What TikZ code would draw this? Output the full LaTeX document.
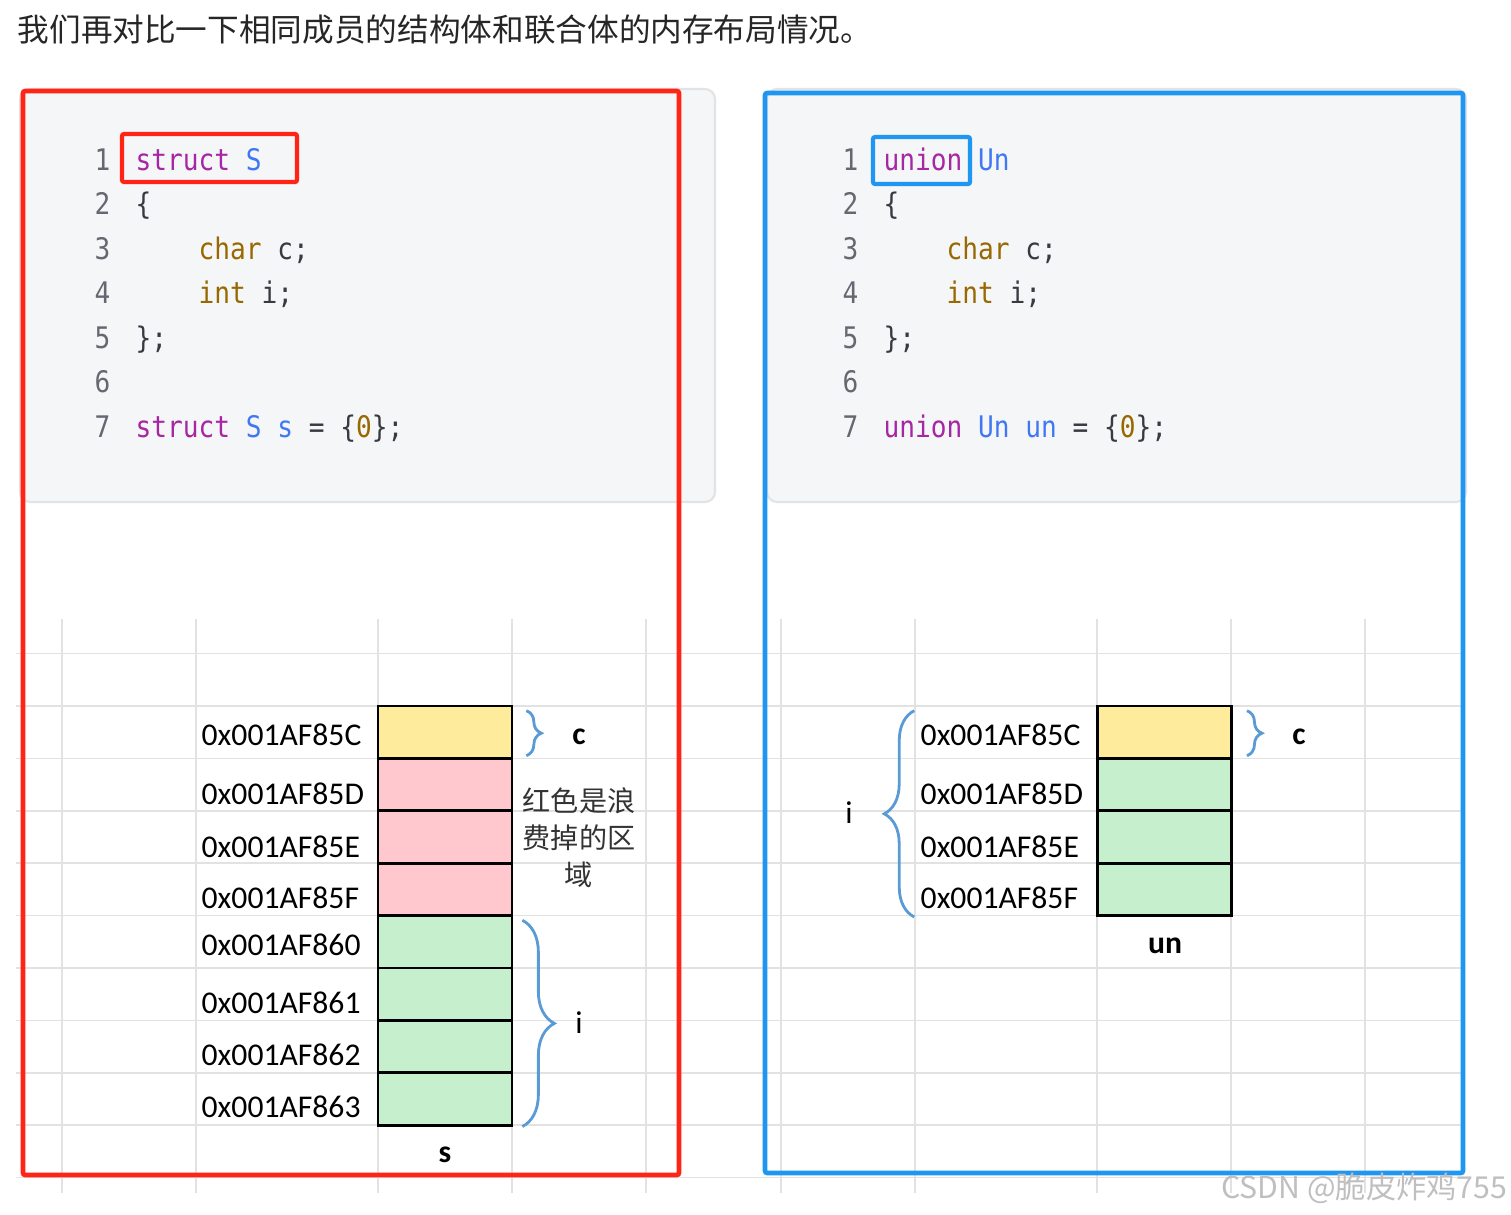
\documentclass[tikz,border=0pt]{standalone}
\usepackage{fontspec}
\setmainfont{Carlito}
\setmonofont[FakeStretch=0.88]{DejaVu Sans Mono}
\newfontfamily\cjk{Noto Sans CJK SC}
\usetikzlibrary{
    calc,
    decorations.pathreplacing
}
\definecolor{frameRed}{RGB}{255,36,22}
\definecolor{frameBlue}{RGB}{30,150,242}
\definecolor{panelBg}{RGB}{245,246,247}
\definecolor{panelLine}{RGB}{225,227,230}
\definecolor{gridLine}{RGB}{226,226,226}
\definecolor{kwPurple}{RGB}{166,38,164}
\definecolor{tyBlue}{RGB}{64,120,242}
\definecolor{numBrown}{RGB}{152,104,1}
\definecolor{codeInk}{RGB}{56,58,66}
\definecolor{lineGray}{RGB}{100,104,112}
\definecolor{cellYellow}{RGB}{255,235,156}
\definecolor{cellPink}{RGB}{255,199,206}
\definecolor{cellGreen}{RGB}{198,239,206}
\definecolor{braceBlue}{RGB}{91,155,213}
\newcommand\cdfont{\fontsize{8.45pt}{10pt}\selectfont\ttfamily}
\newcommand\addrfont{\fontsize{9pt}{11pt}\selectfont}
\tikzset{
  panel/.style   = {fill=panelBg, draw=panelLine, line width=0.6pt,
                    rounded corners=0.1cm},
  gridln/.style  = {draw=gridLine, line width=0.45pt},
  hlbox/.style   = {line width=1.2pt, rounded corners=0.6pt},
  lnum/.style    = {anchor=base east, inner sep=0, font=\cdfont, text=lineGray},
  code/.style    = {anchor=base west, inner sep=0, font=\cdfont, text=codeInk},
  cell/.style    = {draw=black, line width=0.75pt, minimum width=1.34cm,
                    minimum height=0.524cm, inner sep=0},
  addr/.style    = {anchor=west, inner sep=0, font=\addrfont},
  memname/.style = {inner sep=0, font=\addrfont\bfseries},
  brc/.style     = {draw=braceBlue, line width=0.8pt,
                    decorate, decoration={brace, amplitude=#1}}
}

\begin{document}
\begin{tikzpicture}[x=0.01cm, y=-0.01cm]
  \useasboundingbox (0,0) rectangle (1511,1214);

  % heading
  \node[anchor=west, inner sep=0, font=\cjk\fontsize{9pt}{11pt}\selectfont,
        text=black!85] (title) at (17,30)
        {我们再对比一下相同成员的结构体和联合体的内存布局情况。};

  % code panels
  \draw[panel] (20,89) rectangle (715,502);
  \draw[panel] (767,89) rectangle (1466,502);

  \foreach \k in {1,...,7} {
    \node[lnum] (lnS\k) at (111,{170+44.5*(\k-1)}) {\k};
    \node[lnum] (lnU\k) at (859,{170+44.5*(\k-1)}) {\k};
  }

  \node[code] (codeS1) at (135,170)   {\textcolor{kwPurple}{struct} \textcolor{tyBlue}{S}};
  \node[code] (codeS2) at (135,214.5) {\{};
  \node[code] (codeS3) at (198,259)   {\textcolor{numBrown}{char} c;};
  \node[code] (codeS4) at (198,303.5) {\textcolor{numBrown}{int} i;};
  \node[code] (codeS5) at (135,348)   {\};};
  \node[code] (codeS7) at (135,437)   {\textcolor{kwPurple}{struct} \textcolor{tyBlue}{S}
    \textcolor{tyBlue}{s} = \{\textcolor{numBrown}{0}\};};

  \node[code] (codeU1) at (883,170)   {\textcolor{kwPurple}{union} \textcolor{tyBlue}{Un}};
  \node[code] (codeU2) at (883,214.5) {\{};
  \node[code] (codeU3) at (946,259)   {\textcolor{numBrown}{char} c;};
  \node[code] (codeU4) at (946,303.5) {\textcolor{numBrown}{int} i;};
  \node[code] (codeU5) at (883,348)   {\};};
  \node[code] (codeU7) at (883,437)   {\textcolor{kwPurple}{union} \textcolor{tyBlue}{Un}
    \textcolor{tyBlue}{un} = \{\textcolor{numBrown}{0}\};};

  \draw[hlbox, frameRed]  (122,134) rectangle (297,182);
  \draw[hlbox, frameBlue] (873,137) rectangle (970,184);

  % spreadsheet grid
  \foreach \x in {62,196,378,512,646,781,915,1097,1231,1365}
    \draw[gridln] (\x,619) -- (\x,1193);
  \foreach \k in {0,...,10}
    \draw[gridln] (16,{653.6+52.4*\k}) -- (1463,{653.6+52.4*\k});

  % struct S s
  \foreach \k/\col in {0/cellYellow,1/cellPink,2/cellPink,3/cellPink,
                       4/cellGreen,5/cellGreen,6/cellGreen,7/cellGreen}
    \node[cell, fill=\col] (s\k) at (445,{732.2+52.4*\k}) {};
  \foreach \k/\a/\y in {0/85C/735,1/85D/794,2/85E/847,3/85F/898,
                        4/860/945,5/861/1003,6/862/1055,7/863/1107}
    \node[addr] (sa\k) at (201,\y) {0x001AF\a};

  \node[memname] (sc) at (579,737)  {c};
  \node[inner sep=0, font=\addrfont] (si) at (579,1023) {i};
  \node[memname] (sn) at (445,1155) {s};
  \node[align=center, inner sep=0, text=black!80,
        font=\cjk\fontsize{8pt}{10.5pt}\selectfont] (waste) at (579,838)
        {红色是浪\\费掉的区\\域};

  \draw[brc=0.15cm] ($(s0.north east)+(13,6)$) -- ($(s0.south east)+(13,-4)$);
  \draw[brc=0.32cm] ($(s4.north east)+(9,6)$)  -- ($(s7.south east)+(9,0)$);

  % union Un un
  \foreach \k/\col in {0/cellYellow,1/cellGreen,2/cellGreen,3/cellGreen}
    \node[cell, fill=\col] (u\k) at (1164.6,{732.2+52.4*\k}) {};
  \foreach \k/\a/\y in {0/85C/735,1/85D/794,2/85E/847,3/85F/898}
    \node[addr] (ua\k) at (920,\y) {0x001AF\a};

  \node[memname] (uc) at (1299,737) {c};
  \node[inner sep=0, font=\addrfont] (ui) at (849,813) {i};
  \node[memname] (un) at (1165,946) {un};

  \draw[brc=0.15cm] ($(u0.north east)+(14,6)$) -- ($(u0.south east)+(14,-4)$);
  \draw[brc=0.30cm] ($(u3.south west)+(-182,0)$) -- ($(u0.north west)+(-182,6)$);

  % outer frames
  \draw[frameRed, line width=1.3pt, rounded corners=0.6pt] (23,91) rectangle (679,1175);
  \draw[frameBlue, line width=1.3pt, rounded corners=0.6pt] (765,93) rectangle (1463,1173);

  \node[anchor=east, inner sep=0, text=black!25,
        font=\cjk\fontsize{8.6pt}{10pt}\selectfont] (mark) at (1508,1188)
        {CSDN @脆皮炸鸡755};
\end{tikzpicture}
\end{document}
